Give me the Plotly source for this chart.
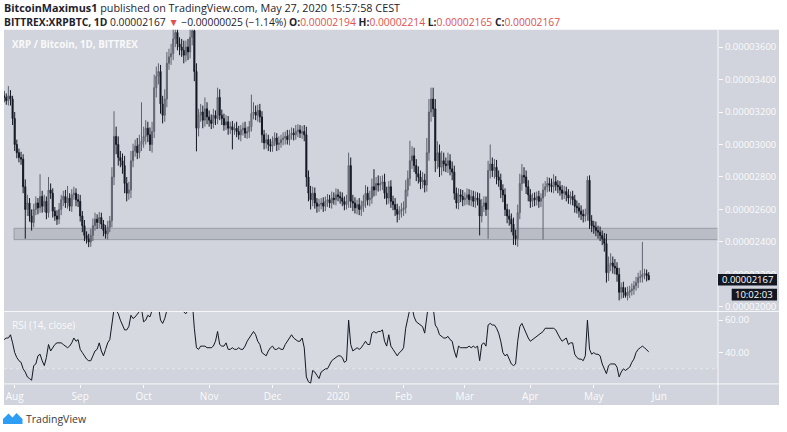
import plotly.graph_objects as go
import pandas as pd

# ---------------- data (prices in satoshi = 1e-8 BTC) ----------------
START_DATE = "2019-07-27"
FIRST_OPEN = 3300
LAST_OPEN = 2194

CLOSE_JUL = [3290, 3270, 3300, 3280, 3160]
CLOSE_AUG = [3000, 2950, 2920, 2910, 2740, 2600, 2640, 2560, 2520, 2600,
             2640, 2610, 2680, 2620, 2650, 2580, 2720, 2700, 2590, 2560,
             2540, 2600, 2660, 2680, 2640, 2670, 2620, 2690, 2700, 2660,
             2650]
CLOSE_SEP = [2560, 2500, 2440, 2420, 2400, 2440, 2500, 2540, 2520, 2550,
             2510, 2470, 2450, 2490, 2530, 2800, 3050, 3000, 2920, 2900,
             2870, 2760, 2700, 2720, 2900, 2960, 2990, 2950, 3000, 3020]
CLOSE_OCT = [3050, 3100, 3060, 3000, 3080, 3350, 3420, 3450, 3250, 3180,
             3280, 3500, 3540, 3560, 3650, 3690, 3620, 3600, 3580, 3550,
             3600, 3570, 3660, 3700, 3450, 3100, 3180, 3200, 3150, 3220,
             3170]
CLOSE_NOV = [3150, 3130, 3180, 3160, 3290, 3180, 3160, 3120, 3140, 3100,
             3110, 3090, 3100, 3080, 3060, 3090, 3100, 3070, 3080, 3110,
             3190, 3200, 3180, 3210, 3170, 3060, 3010, 3030, 3000, 2990]
CLOSE_DEC = [3020, 3040, 3000, 3010, 3030, 3040, 3050, 3030, 3060, 3070,
             3060, 3080, 3090, 3070, 3080, 3060, 2800, 2700, 2660, 2700,
             2640, 2620, 2630, 2640, 2620, 2650, 2660, 2640, 2670, 2660,
             2690]
CLOSE_JAN = [2680, 2670, 2650, 2630, 2650, 2870, 2650, 2640, 2610, 2630,
             2600, 2620, 2650, 2700, 2660, 2670, 2740, 2720, 2760, 2750,
             2760, 2770, 2700, 2670, 2740, 2650, 2630, 2600, 2570, 2590,
             2600]
CLOSE_FEB = [2610, 2720, 2790, 2900, 2930, 2870, 2820, 2800, 2770, 2780,
             2750, 2950, 3200, 3280, 3220, 2900, 2950, 2860, 2900, 2880,
             2870, 2900, 2850, 2830, 2700, 2640, 2690, 2680, 2660]
CLOSE_MAR = [2670, 2690, 2660, 2680, 2650, 2670, 2660, 2560, 2620, 2640,
             2600, 2840, 2880, 2840, 2860, 2800, 2780, 2720, 2690, 2600,
             2560, 2540, 2510, 2440, 2420, 2580, 2760, 2810, 2800, 2740,
             2690]
CLOSE_APR = [2650, 2670, 2660, 2680, 2650, 2670, 2720, 2740, 2760, 2750,
             2740, 2770, 2750, 2740, 2720, 2700, 2710, 2690, 2670, 2680,
             2660, 2620, 2610, 2590, 2570, 2560, 2570, 2780, 2530, 2500]
CLOSE_MAY = [2490, 2470, 2460, 2440, 2420, 2390, 2210, 2260, 2270, 2250,
             2240, 2200, 2090, 2120, 2090, 2070, 2090, 2100, 2110, 2130,
             2150, 2180, 2185, 2200, 2205, 2192, 2167]

UPW_JUL = [30, 25, 60, 35, 20]
UPW_AUG = [40, 30, 25, 35, 30, 45, 50, 30, 40, 35, 40, 30, 137, 35, 40, 30, 80, 40, 30, 25,
           35, 40, 30, 35, 40, 75, 30, 35, 40, 30, 35]
UPW_SEP = [40, 30, 35, 25, 30, 40, 45, 40, 30, 35, 30, 25, 35, 40, 30, 60, 155, 60, 50, 40,
           45, 60, 40, 50, 60, 45, 40, 50, 60, 240]
UPW_OCT = [60, 50, 40, 45, 60, 80, 60, 50, 40, 50, 60, 70, 50, 60, 70, 60, 50, 40, 50, 60,
           40, 50, 60, 70, 60, 50, 40, 50, 40, 70, 40]
UPW_NOV = [40, 35, 40, 30, 60, 50, 35, 30, 40, 35, 30, 35, 30, 40, 35, 30, 35, 40, 30, 35,
           117, 60, 40, 35, 40, 35, 30, 40, 30, 35]
UPW_DEC = [30, 35, 30, 40, 30, 35, 30, 40, 30, 35, 30, 40, 35, 30, 35, 40, 50, 40, 45, 40,
           35, 30, 35, 30, 35, 30, 35, 30, 40, 35, 40]
UPW_JAN = [35, 30, 35, 30, 40, 80, 50, 40, 35, 30, 40, 35, 40, 50, 40, 45, 50, 108, 40, 50,
           45, 40, 50, 40, 35, 40, 35, 40, 35, 30, 40]
UPW_FEB = [40, 60, 50, 123, 60, 50, 40, 45, 40, 50, 40, 90, 80, 70, 70, 60, 70, 50, 60, 50,
           40, 50, 40, 45, 40, 35, 40, 35, 40]
UPW_MAR = [35, 40, 35, 40, 35, 40, 35, 40, 45, 40, 40, 60, 120, 40, 50, 45, 40, 40, 35, 40,
           35, 40, 35, 40, 35, 50, 60, 70, 50, 40, 40]
UPW_APR = [35, 30, 35, 30, 35, 30, 40, 35, 40, 35, 40, 47, 35, 30, 35, 30, 35, 30, 35, 30,
           35, 30, 35, 30, 35, 30, 35, 25, 30, 35]
UPW_MAY = [30, 35, 30, 35, 30, 35, 60, 50, 60, 40, 45, 35, 40, 30, 35, 30, 35, 30, 35, 30,
           35, 30, 40, 200, 30, 25, 20]

DNW_JUL = [30, 25, 30, 40, 40]
DNW_AUG = [40, 35, 30, 35, 40, 180, 40, 35, 50, 30, 35, 40, 30, 40, 35, 40, 30, 35, 40, 30,
           35, 30, 35, 40, 30, 35, 30, 35, 30, 40, 35]
DNW_SEP = [35, 40, 35, 30, 32, 30, 35, 30, 40, 35, 30, 35, 30, 35, 30, 40, 50, 60, 50, 40,
           50, 60, 50, 40, 50, 40, 35, 40, 35, 40]
DNW_OCT = [40, 50, 45, 40, 50, 40, 60, 50, 60, 50, 40, 50, 40, 50, 40, 50, 40, 50, 40, 50,
           40, 50, 40, 50, 60, 142, 50, 40, 50, 40, 45]
DNW_NOV = [40, 35, 30, 40, 35, 30, 40, 35, 30, 40, 35, 120, 30, 35, 30, 40, 35, 30, 35, 40,
           30, 35, 30, 40, 35, 50, 40, 35, 40, 35]
DNW_DEC = [35, 30, 40, 35, 30, 35, 40, 30, 35, 30, 35, 30, 35, 30, 35, 40, 60, 50, 60, 40,
           35, 40, 35, 30, 35, 30, 35, 30, 35, 30, 35]
DNW_JAN = [30, 35, 30, 35, 30, 40, 40, 50, 35, 40, 35, 40, 35, 40, 35, 40, 35, 40, 35, 40,
           35, 40, 35, 40, 35, 40, 35, 40, 50, 35, 40]
DNW_FEB = [40, 35, 40, 45, 50, 40, 45, 40, 45, 40, 45, 40, 50, 60, 50, 70, 50, 60, 50, 45,
           40, 45, 40, 50, 40, 35, 40, 35, 40]
DNW_MAR = [35, 40, 35, 40, 35, 40, 35, 120, 40, 35, 40, 181, 50, 40, 50, 45, 40, 50, 45, 40,
           45, 40, 50, 58, 40, 50, 40, 45, 40, 45, 40]
DNW_APR = [40, 35, 40, 35, 40, 35, 256, 40, 35, 40, 35, 40, 35, 40, 35, 40, 35, 40, 35, 40,
           35, 40, 35, 40, 35, 40, 35, 40, 50, 40]
DNW_MAY = [40, 35, 40, 35, 40, 50, 60, 50, 40, 45, 40, 45, 50, 40, 35, 13, 30, 35, 30, 35,
           30, 35, 30, 35, 30, 35, 2]

RSI_JUL = [48, 49, 49, 51, 46]
RSI_AUG = [40, 37, 35, 34, 30, 28, 25, 24, 23, 32, 33, 38, 39, 35, 32, 37, 45, 41, 43, 45,
           46, 46, 46, 45, 44, 43, 44, 46, 49, 47, 48]
RSI_SEP = [42, 40, 38, 36, 35, 35, 38, 41, 42, 46, 41, 38, 42, 46, 48, 59, 67, 66, 64, 60,
           57, 54, 54, 56, 63, 61, 62, 64, 66, 67]
RSI_OCT = [59, 60, 63, 62, 66, 70, 71, 69, 60, 58, 61, 66, 70, 72, 74, 75, 72, 70, 68, 65,
           64, 66, 70, 72, 55, 43, 42, 44, 44, 44, 43]
RSI_NOV = [43, 43, 44, 47, 53, 45, 44, 44, 46, 42, 42, 43, 42, 42, 43, 42, 42, 44, 47, 49,
           51, 53, 51, 47, 45, 40, 39, 38, 41, 43]
RSI_DEC = [44, 42, 42, 43, 42, 42, 45, 47, 49, 51, 49, 48, 47, 47, 49, 43, 25, 22, 21, 29,
           28, 26, 24, 28, 29, 30, 30, 33, 35, 36, 37]
RSI_JAN = [38, 38, 37, 34, 35, 60, 45, 41, 42, 43, 42, 43, 45, 47, 45, 45, 52, 53, 52, 53,
           53, 54, 47, 44, 51, 44, 42, 40, 38, 40, 41]
RSI_FEB = [43, 55, 61, 67, 68, 62, 59, 58, 57, 56, 52, 68, 72, 71, 68, 57, 55, 51, 50, 49,
           49, 50, 48, 47, 41, 37, 44, 43, 43]
RSI_MAR = [43, 43, 44, 43, 44, 43, 44, 35, 45, 46, 44, 57, 58, 57, 57, 55, 52, 47, 40, 38,
           39, 36, 33, 32, 33, 47, 56, 58, 55, 51, 49]
RSI_APR = [47, 48, 49, 50, 51, 52, 53, 55, 55, 55, 55, 55, 54, 51, 49, 47, 48, 49, 45, 46,
           46, 39, 37, 36, 36, 35, 38, 60, 42, 39]
RSI_MAY = [40, 39, 39, 38, 33, 30, 27, 32, 33, 33, 33, 31, 25, 28, 30, 29, 30, 31, 34, 36,
           40, 42, 43, 44, 43, 42, 40.5]

PRICE_TICKS = [2000, 2200, 2400, 2600, 2800, 3000, 3200, 3400, 3600]
RSI_TICKS = [40, 60]
MONTH_TICKS = ["2019-08-01", "2019-09-01", "2019-10-01", "2019-11-01", "2019-12-01",
               "2020-01-01", "2020-02-01", "2020-03-01", "2020-04-01", "2020-05-01",
               "2020-06-01"]
MONTH_LABELS = ["Aug", "Sep", "Oct", "Nov", "Dec", "2020", "Feb", "Mar", "Apr", "May", "Jun"]
ZONE_LOW, ZONE_HIGH = 2414, 2484
ZONE_START = "2019-07-31 16:00"
LAST_TIME = "10:02:03"

# ---------------- assemble ----------------
CLOSE = (CLOSE_JUL + CLOSE_AUG + CLOSE_SEP + CLOSE_OCT + CLOSE_NOV + CLOSE_DEC +
         CLOSE_JAN + CLOSE_FEB + CLOSE_MAR + CLOSE_APR + CLOSE_MAY)
UPW = (UPW_JUL + UPW_AUG + UPW_SEP + UPW_OCT + UPW_NOV + UPW_DEC +
       UPW_JAN + UPW_FEB + UPW_MAR + UPW_APR + UPW_MAY)
DNW = (DNW_JUL + DNW_AUG + DNW_SEP + DNW_OCT + DNW_NOV + DNW_DEC +
       DNW_JAN + DNW_FEB + DNW_MAR + DNW_APR + DNW_MAY)
RSI = (RSI_JUL + RSI_AUG + RSI_SEP + RSI_OCT + RSI_NOV + RSI_DEC +
       RSI_JAN + RSI_FEB + RSI_MAR + RSI_APR + RSI_MAY)

SAT = 1e-8
dates = pd.date_range(START_DATE, periods=len(CLOSE), freq="D")
OPEN = [FIRST_OPEN] + CLOSE[:-1]
OPEN[-1] = LAST_OPEN
HIGH = [max(o, c) + u for o, c, u in zip(OPEN, CLOSE, UPW)]
LOW = [min(o, c) - d for o, c, d in zip(OPEN, CLOSE, DNW)]

W, H = 787, 432
def px(x):
    return x / W
def py(y):
    return 1 - y / H

X_RANGE = ["2019-07-26 22:30", "2020-06-28 18:43"]
Y_RANGE = [1971.2 * SAT, 3706.1 * SAT]
RSI_RANGE = [20.7, 65.3]

FONT = "Open Sans"
AXIS_TXT = "rgba(255,255,255,0.95)"
RED = "#e0514f"
DARK = "#131722"

fig = go.Figure()
fig.add_trace(go.Candlestick(
    x=dates,
    open=[v * SAT for v in OPEN], high=[v * SAT for v in HIGH],
    low=[v * SAT for v in LOW], close=[v * SAT for v in CLOSE],
    increasing=dict(line=dict(color="#5f626d", width=1), fillcolor="#8f929c"),
    decreasing=dict(line=dict(color=DARK, width=1), fillcolor=DARK),
    xaxis="x", yaxis="y", showlegend=False, hoverinfo="skip",
))
fig.add_trace(go.Scatter(
    x=dates, y=RSI, mode="lines", line=dict(color=DARK, width=1),
    xaxis="x2", yaxis="y2", showlegend=False, hoverinfo="skip",
))

last_c = CLOSE[-1]

shapes = [
    dict(type="rect", xref="paper", yref="paper", x0=px(4), x1=px(779), y0=py(407), y1=py(30),
         fillcolor="#d1d4dc", line=dict(width=0), layer="below"),
    dict(type="rect", xref="x2 domain", yref="y2", x0=0, x1=1, y0=30, y1=70,
         fillcolor="rgba(255,255,255,0.12)", line=dict(width=0), layer="below"),
    dict(type="line", xref="x2 domain", yref="y2", x0=0, x1=1, y0=30, y1=30,
         line=dict(color="rgba(255,255,255,0.45)", width=1, dash="dot"), layer="below"),
    dict(type="rect", xref="x", yref="y", x0=ZONE_START, x1=X_RANGE[1],
         y0=ZONE_LOW * SAT, y1=ZONE_HIGH * SAT,
         fillcolor="rgba(120,123,134,0.26)", line=dict(color="rgba(120,123,134,0.55)", width=1),
         layer="below"),
    dict(type="line", xref="paper", yref="paper", x0=px(718), x1=px(718), y0=py(407), y1=py(30),
         line=dict(color="rgba(255,255,255,0.85)", width=1)),
    dict(type="line", xref="paper", yref="paper", x0=px(4), x1=px(779), y0=py(313), y1=py(313),
         line=dict(color="rgba(255,255,255,0.85)", width=1)),
    dict(type="line", xref="paper", yref="paper", x0=px(4), x1=px(779), y0=py(385.7), y1=py(385.7),
         line=dict(color="rgba(255,255,255,0.85)", width=1)),
    dict(type="rect", xref="paper", yref="y", x0=px(718), x1=px(777),
         y0=(last_c - 36) * SAT, y1=(last_c + 36) * SAT,
         fillcolor=DARK, line=dict(width=0), layer="above"),
    dict(type="rect", xref="paper", yref="y", x0=px(731.7), x1=px(777),
         y0=(last_c - 127) * SAT, y1=(last_c - 55) * SAT,
         fillcolor=DARK, line=dict(width=0), layer="above"),
    dict(type="path", xref="paper", yref="paper",
         path=("M {a},{b} L {c},{d} L {e},{f} L {g},{h} L {i},{j} L {k},{l} L {m},{n} Z".format(
             a=px(3), b=py(426), c=px(3), d=py(421), e=px(8.5), f=py(415.5), g=px(12.5), h=py(419.5),
             i=px(16.5), j=py(415), k=px(22.5), l=py(421), m=px(22.5), n=py(426))),
         fillcolor="#2e9ef4", line=dict(width=0)),
]

header = ("<span style='font-size:10.8px'><b>BitcoinMaximus1</b> published on TradingView.com, "
          "May 27, 2020 15:57:58 CEST</span><br>"
          "<span style='font-size:10.3px'><b>BITTREX:XRPBTC, 1D</b> 0.00002167 "
          "<span style='color:%s'>▼</span> −0.00000025 (−1.14%%) "
          "<b>O:</b><span style='color:%s'>0.00002194</span> "
          "<b>H:</b><span style='color:%s'>0.00002214</span> "
          "<b>L:</b><span style='color:%s'>0.00002165</span> "
          "<b>C:</b><span style='color:%s'>0.00002167</span></span>") % (RED, RED, RED, RED, RED)

annotations = [
    dict(xref="paper", yref="paper", x=px(3), y=py(14.5), xanchor="left", yanchor="middle",
         showarrow=False, align="left", borderpad=0,
         font=dict(family=FONT, size=10.5, color="#1e222d"), text=header),
    dict(xref="paper", yref="paper", x=px(10), y=py(45), xanchor="left", yanchor="middle",
         showarrow=False, font=dict(family=FONT, size=9.8, color="rgba(255,255,255,0.9)"),
         text="<b>XRP / Bitcoin, 1D, BITTREX</b>"),
    dict(xref="paper", yref="paper", x=px(10), y=py(326.5), xanchor="left", yanchor="middle",
         showarrow=False, font=dict(family=FONT, size=10, color="rgba(255,255,255,0.9)"),
         text="RSI (14, close)"),
    dict(xref="paper", yref="y", x=px(747.5), y=last_c * SAT, xanchor="center", yanchor="middle",
         showarrow=False, font=dict(family=FONT, size=9.5, color="white"),
         text="%.8f" % (last_c * SAT)),
    dict(xref="paper", yref="y", x=px(754.3), y=(last_c - 91) * SAT, xanchor="center",
         yanchor="middle", showarrow=False, font=dict(family=FONT, size=9.5, color="white"),
         text=LAST_TIME),
    dict(xref="paper", yref="paper", x=px(24), y=py(421), xanchor="left", yanchor="middle",
         showarrow=False, font=dict(family=FONT, size=10.5, color="#3c3c3c"),
         text="TradingView"),
]

fig.update_layout(
    width=W, height=H,
    margin=dict(l=0, r=0, t=0, b=0),
    paper_bgcolor="white", plot_bgcolor="rgba(0,0,0,0)",
    showlegend=False,
    shapes=shapes, annotations=annotations,
    xaxis=dict(domain=[px(4), px(718)], range=X_RANGE, type="date", anchor="y",
               showgrid=False, zeroline=False, showticklabels=False, ticks="",
               rangeslider=dict(visible=False), showline=False),
    xaxis2=dict(domain=[px(4), px(718)], range=X_RANGE, type="date", anchor="y2",
                matches="x", showgrid=False, zeroline=False, showline=False,
                tickmode="array", tickvals=MONTH_TICKS, ticktext=MONTH_LABELS,
                ticks="outside", ticklen=3, tickcolor="rgba(255,255,255,0.9)",
                tickfont=dict(family=FONT, size=10, color=AXIS_TXT)),
    yaxis=dict(domain=[py(313), py(30)], range=Y_RANGE, side="right", anchor="x",
               showgrid=False, zeroline=False, showline=False,
               tickmode="array", tickvals=[v * SAT for v in PRICE_TICKS],
               ticktext=["%.8f" % (v * SAT) for v in PRICE_TICKS],
               ticks="outside", ticklen=4, tickcolor="rgba(255,255,255,0.9)",
               tickfont=dict(family=FONT, size=9.5, color=AXIS_TXT)),
    yaxis2=dict(domain=[py(385.7), py(313)], range=RSI_RANGE, side="right", anchor="x2",
                showgrid=False, zeroline=False, showline=False,
                tickmode="array", tickvals=RSI_TICKS,
                ticktext=["%.2f" % v for v in RSI_TICKS],
                ticks="outside", ticklen=4, tickcolor="rgba(255,255,255,0.9)",
                tickfont=dict(family=FONT, size=9.5, color=AXIS_TXT)),
)

fig.write_html("out.html", config={"displayModeBar": False},
               post_script="document.body.style.margin='0';")
